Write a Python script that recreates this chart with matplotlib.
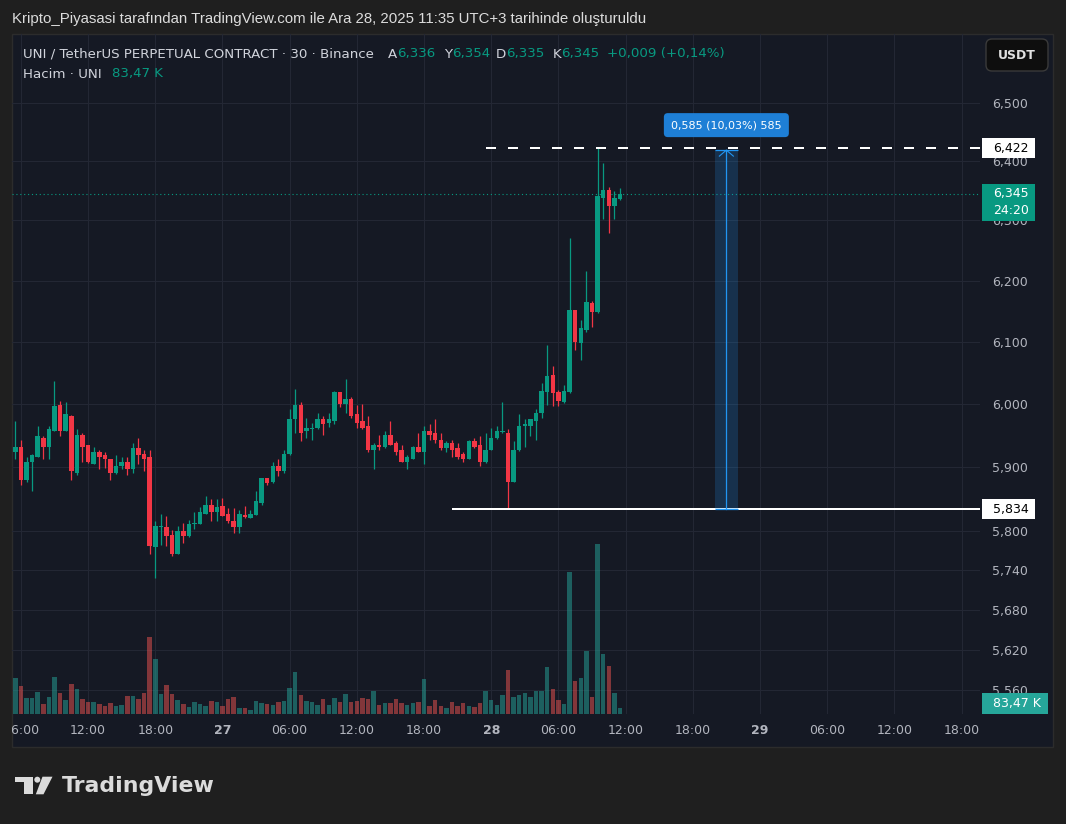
import numpy as np
import matplotlib.pyplot as plt
from matplotlib.patches import Rectangle, FancyBboxPatch, Polygon, Circle
from matplotlib.transforms import Affine2D
from matplotlib.ticker import NullLocator, NullFormatter

W, H = 1066, 824

# ===== DATI: UNI/USDT perp, 30m, 26 Ara 05:30 -> 28 Ara 11:30 =====
opens = [5.924, 5.932, 5.879, 5.907, 5.916, 5.946, 5.931, 5.957, 5.998, 5.957,
         5.981, 5.891, 5.951, 5.934, 5.905, 5.924, 5.918, 5.912, 5.890, 5.901,
         5.908, 5.896, 5.929, 5.921, 5.916, 5.776, 5.806, 5.807, 5.794, 5.765,
         5.800, 5.793, 5.811, 5.811, 5.827, 5.841, 5.830, 5.839, 5.827, 5.815,
         5.807, 5.825, 5.821, 5.825, 5.844, 5.882, 5.876, 5.901, 5.893, 5.920,
         5.975, 5.998, 5.956, 5.960, 5.961, 5.976, 5.969, 5.973, 6.018, 6.000,
         6.007, 5.983, 5.972, 5.964, 5.926, 5.935, 5.931, 5.951, 5.937, 5.927,
         5.908, 5.913, 5.932, 5.924, 5.956, 5.954, 5.943, 5.929, 5.937, 5.929,
         5.920, 5.913, 5.940, 5.934, 5.907, 5.927, 5.945, 5.955, 5.954, 5.877,
         5.926, 5.964, 5.965, 5.973, 5.986, 6.018, 6.046, 6.018, 6.003, 6.018,
         6.152, 6.097, 6.119, 6.163, 6.148, 6.337, 6.352, 6.325, 6.336]
highs = [5.973, 5.943, 5.916, 5.921, 5.965, 5.948, 5.964, 6.036, 6.005, 6.002,
         5.982, 5.959, 5.954, 5.935, 5.932, 5.926, 5.923, 5.912, 5.918, 5.916,
         5.916, 5.937, 5.945, 5.926, 5.926, 5.816, 5.827, 5.824, 5.802, 5.808,
         5.813, 5.817, 5.830, 5.838, 5.855, 5.849, 5.850, 5.852, 5.835, 5.836,
         5.832, 5.839, 5.832, 5.863, 5.883, 5.883, 5.907, 5.913, 5.927, 5.991,
         6.023, 6.002, 5.978, 5.970, 5.986, 5.981, 5.986, 6.020, 6.018, 6.039,
         6.010, 5.998, 6.000, 5.981, 5.937, 5.951, 5.956, 5.972, 5.940, 5.935,
         5.919, 5.933, 5.953, 5.965, 5.967, 5.975, 5.954, 5.940, 5.942, 5.937,
         5.923, 5.943, 5.946, 5.948, 5.954, 5.961, 5.965, 6.002, 5.959, 5.940,
         5.983, 5.975, 5.976, 5.991, 6.034, 6.094, 6.060, 6.022, 6.030, 6.271,
         6.152, 6.135, 6.216, 6.166, 6.422, 6.397, 6.357, 6.349, 6.354]
lows = [5.912, 5.871, 5.876, 5.862, 5.915, 5.912, 5.913, 5.956, 5.948, 5.957,
        5.880, 5.888, 5.907, 5.906, 5.904, 5.896, 5.899, 5.880, 5.889, 5.897,
        5.888, 5.891, 5.905, 5.893, 5.764, 5.728, 5.779, 5.777, 5.762, 5.764,
        5.781, 5.791, 5.804, 5.811, 5.827, 5.815, 5.816, 5.824, 5.813, 5.797,
        5.797, 5.821, 5.821, 5.825, 5.841, 5.871, 5.874, 5.885, 5.891, 5.918,
        5.953, 5.940, 5.946, 5.943, 5.960, 5.950, 5.963, 5.967, 5.994, 5.986,
        5.978, 5.961, 5.959, 5.924, 5.896, 5.926, 5.930, 5.934, 5.919, 5.907,
        5.896, 5.912, 5.923, 5.905, 5.943, 5.938, 5.927, 5.924, 5.915, 5.913,
        5.907, 5.912, 5.929, 5.902, 5.906, 5.926, 5.944, 5.954, 5.834, 5.876,
        5.925, 5.931, 5.948, 5.943, 5.978, 5.998, 5.996, 5.996, 6.001, 6.017,
        6.086, 6.071, 6.115, 6.123, 6.146, 6.302, 6.279, 6.302, 6.335]
closes = [5.931, 5.879, 5.907, 5.918, 5.948, 5.932, 5.959, 5.997, 5.957, 5.983,
          5.893, 5.950, 5.931, 5.907, 5.924, 5.916, 5.912, 5.890, 5.902, 5.907,
          5.896, 5.929, 5.918, 5.913, 5.777, 5.808, 5.807, 5.793, 5.764, 5.800,
          5.793, 5.811, 5.813, 5.829, 5.841, 5.830, 5.838, 5.824, 5.815, 5.807,
          5.827, 5.822, 5.827, 5.846, 5.882, 5.874, 5.902, 5.893, 5.921, 5.976,
          5.998, 5.954, 5.961, 5.961, 5.975, 5.968, 5.975, 6.018, 6.000, 6.007,
          5.981, 5.970, 5.962, 5.926, 5.935, 5.931, 5.951, 5.935, 5.924, 5.908,
          5.915, 5.932, 5.924, 5.956, 5.951, 5.942, 5.929, 5.937, 5.927, 5.916,
          5.913, 5.940, 5.932, 5.907, 5.927, 5.946, 5.956, 5.956, 5.877, 5.926,
          5.964, 5.967, 5.975, 5.986, 6.020, 6.044, 6.017, 6.004, 6.020, 6.152,
          6.099, 6.122, 6.165, 6.148, 6.341, 6.352, 6.325, 6.337, 6.345]
# volume in migliaia di UNI
volume_k = [500, 389, 222, 222, 306, 139, 236, 514, 292, 195,
            417, 347, 208, 167, 167, 139, 111, 153, 111, 125,
            250, 250, 208, 292, 1070, 764, 278, 403, 278, 195,
            139, 97, 167, 139, 111, 181, 167, 111, 208, 236,
            83, 83, 56, 181, 153, 139, 125, 167, 181, 361,
            584, 264, 181, 167, 125, 208, 125, 222, 167, 278,
            167, 181, 222, 208, 320, 125, 153, 153, 208, 153,
            125, 153, 167, 486, 111, 195, 111, 83, 167, 111,
            153, 111, 97, 153, 320, 195, 125, 264, 612, 236,
            264, 292, 236, 320, 320, 653, 347, 195, 139, 1974,
            459, 500, 876, 236, 2363, 834, 667, 292, 83]

price_ticks = [5.56, 5.62, 5.68, 5.74, 5.80, 5.90, 6.00, 6.10, 6.20, 6.30, 6.40, 6.50]
time_ticks = [1, 13, 25, 37, 49, 61, 73, 85, 97, 109, 121, 133, 145, 157, 169]
time_labels = ['06:00', '12:00', '18:00', '27', '06:00', '12:00', '18:00', '28',
               '06:00', '12:00', '18:00', '29', '06:00', '12:00', '18:00']
day_labels = ['27', '28', '29']

last_close = 6.345
hi_level = 6.422      # linea tratteggiata (massimo)
lo_level = 5.834      # linea continua (minimo)
measure_top = 6.419   # righello 0,585 (10,03%)

# ===== STILE =====
FRAME = '#1f1f1f'
BG = '#151924'
UP = '#089981'
DOWN = '#f23645'
VOL_UP = '#26a69a'
VOL_DOWN = '#ef5350'
GRID = '#232734'
TXT = '#b2b5be'
HDR = '#d1d4dc'
BLUE = '#2196f3'

fig = plt.figure(figsize=(W / 100, H / 100), dpi=100)
fig.patch.set_facecolor(FRAME)
px = Affine2D().scale(1 / W, -1 / H).translate(0, 1) + fig.transFigure


def box(x0, y0, x1, y1):
    return [x0 / W, 1 - y1 / H, (x1 - x0) / W, (y1 - y0) / H]


# riquadro del grafico (sotto a tutto)
fig.add_artist(Rectangle((11.5, 33.5), 1041, 714, transform=px, fc=BG, ec='#2c2c2c', lw=1, zorder=-5))

# ---- prezzi ----
ax = fig.add_axes(box(12, 34, 980, 714))
ax.set_facecolor('none')
ax.set_zorder(1)
ax.set_yscale('log')
ax.set_ylim(5.5244, 6.6205)
ax.set_xlim(-0.59, 172.3)
ax.yaxis.tick_right()
ax.set_yticks(price_ticks)
ax.set_yticklabels([f'{v:.3f}'.replace('.', ',') for v in price_ticks])
ax.yaxis.set_minor_locator(NullLocator())
ax.yaxis.set_minor_formatter(NullFormatter())
ax.tick_params(axis='y', length=0, pad=9.0, labelcolor=TXT, labelsize=9)
ax.set_xticks(time_ticks)
ax.tick_params(axis='x', length=0, labelbottom=False)
ax.grid(True, color=GRID, lw=0.8)
ax.set_axisbelow(True)
for s in ax.spines.values():
    s.set_visible(False)

x = np.arange(len(opens))
o, hi, lo, c = (np.array(a) for a in (opens, highs, lows, closes))
up = c >= o
colors = np.where(up, UP, DOWN)
ax.vlines(x, lo, hi, colors=colors, lw=0.9, zorder=3)
ax.bar(x, np.maximum(np.abs(c - o), 0.0015), bottom=np.minimum(o, c), width=0.8,
       color=colors, lw=0, zorder=4)

# ---- volume ----
ax_v = fig.add_axes(box(12, 34, 980, 714))
ax_v.set_zorder(2)
ax_v.axis('off')
ax_v.bar(x, volume_k, width=0.8, color=np.where(up, VOL_UP, VOL_DOWN), alpha=0.5, lw=0)
ax_v.set_xlim(ax.get_xlim())
ax_v.set_ylim(0, 9450)

# ---- asse tempo ----
ax_t = fig.add_axes(box(12, 714, 980, 748))
ax_t.set_zorder(1)
ax_t.axis('off')
ax_t.set_xlim(ax.get_xlim())
ax_t.set_ylim(0, 1)
for t, lab in zip(time_ticks, time_labels):
    ax_t.text(t, 0.5, lab, ha='center', va='center', color=TXT, fontsize=9,
              fontweight='bold' if lab in day_labels else 'normal', clip_on=True)

# ---- linee orizzontali ----
ax.axhline(last_close, color=UP, lw=0.8, ls=(0, (1, 2.5)), zorder=2)
ax.hlines(hi_level, 84, 172.3, color='white', lw=1.44, ls=(0, (5, 6)), zorder=5)
ax.hlines(lo_level, 78, 172.3, color='white', lw=1.44, zorder=5)


def to_px(xi, price):
    X, Y = ax.transData.transform((xi, price))
    return X, H - Y


# ---- righello ----
ax.add_patch(Rectangle((125, lo_level), 4, measure_top - lo_level, fc=BLUE, alpha=0.2, lw=0, zorder=5))
ax.plot([127, 127], [lo_level, measure_top], color=BLUE, lw=0.9, zorder=6)
ax.hlines([lo_level, measure_top], 125, 129, color=BLUE, lw=0.9, zorder=6)
mx, my = to_px(127, measure_top)
fig.add_artist(plt.Line2D([mx - 7, mx, mx + 7], [my + 6, my, my + 6], transform=px, color=BLUE, lw=0.8, zorder=6))
fig.add_artist(FancyBboxPatch((mx - 62.5, my - 37), 125, 24, transform=px,
                              boxstyle='round,pad=0,rounding_size=4', fc='#1e7fd6', lw=0, zorder=6))
fig.text(mx, my - 25, '0,585 (10,03%) 585', transform=px, ha='center', va='center',
         color='white', fontsize=8, zorder=7)


# ---- etichette prezzo a destra ----
def price_tag(price, text, fc, tc, h=20):
    _, yp = to_px(0, price)
    top = yp - 10
    fig.add_artist(Rectangle((982, top), 53, h, transform=px, fc=fc, lw=0, zorder=5))
    for k, line in enumerate(text.split('\n')):
        fig.text(993, top + 10 + 17 * k, line, transform=px, ha='left', va='center',
                 color=tc, fontsize=9, zorder=6)


price_tag(hi_level, '6,422', 'white', 'black')
price_tag(last_close, '6,345\n24:20', UP, 'white', h=37.5)
price_tag(lo_level, '5,834', 'white', 'black')
fig.add_artist(Rectangle((982, 693), 66, 21, transform=px, fc=VOL_UP, lw=0, zorder=5))
fig.text(993, 703.5, '83,47 K', transform=px, ha='left', va='center', color='white',
         fontsize=9, zorder=6)

# pulsante valuta
fig.add_artist(FancyBboxPatch((986, 39), 62, 32, transform=px,
                              boxstyle='round,pad=0,rounding_size=6', fc='#0e0e0e', ec='#3a3a3a', lw=1, zorder=5))
fig.text(1017, 55.5, 'USDT', transform=px, ha='center', va='center', color='#e0e0e0',
         fontsize=9, fontweight='bold', zorder=6)

# ---- testi ----
fig.text(12, 19, 'Kripto_Piyasasi tarafından TradingView.com ile Ara 28, 2025 11:35 UTC+3 tarihinde oluşturuldu',
         transform=px, ha='left', va='center', color='#dcdcdc', fontsize=10.8,
         family=['Liberation Sans', 'DejaVu Sans'])
fig.text(23, 54, 'UNI / TetherUS PERPETUAL CONTRACT · 30 · Binance', transform=px,
         ha='left', va='center', color=HDR, fontsize=9.6, zorder=6)
# lettera (grigia) allineata a destra, valore (verde) subito dopo
ohlc_hdr = [('A', '6,336', 397), ('Y', '6,354', 452), ('D', '6,335', 506), ('K', '6,345', 561)]
for letter, val, vx in ohlc_hdr:
    fig.text(vx, 54, letter, transform=px, ha='right', va='center', color=HDR, fontsize=9.6, zorder=6)
    fig.text(vx, 54, val, transform=px, ha='left', va='center', color=UP, fontsize=9.6, zorder=6)
fig.text(607, 54, '+0,009 (+0,14%)', transform=px, ha='left', va='center', color=UP, fontsize=9.6, zorder=6)
fig.text(23, 74, 'Hacim · UNI', transform=px, ha='left', va='center', color=HDR, fontsize=9.6, zorder=6)
fig.text(112, 74, '83,47 K', transform=px, ha='left', va='center', color=UP, fontsize=9.6, zorder=6)

# ---- logo ----
LOGO = '#dbdbdb'
fig.add_artist(Polygon([(15, 776.7), (33.3, 776.7), (33.3, 794.3), (24, 794.3), (24, 782.3), (15, 782.3)],
                       closed=True, transform=px, fc=LOGO, lw=0))
fig.add_artist(Circle((37.3, 779.7), 3, transform=px, fc=LOGO, lw=0))
fig.add_artist(Polygon([(42.5, 776.7), (52.5, 776.7), (43.5, 794.3), (35.8, 794.3)],
                       closed=True, transform=px, fc=LOGO, lw=0))
fig.text(61.5, 792, 'TradingView', transform=px, ha='left', va='baseline', color=LOGO,
         fontsize=15.8, fontweight='bold')

fig.savefig('out.png', dpi=100, facecolor=FRAME)
